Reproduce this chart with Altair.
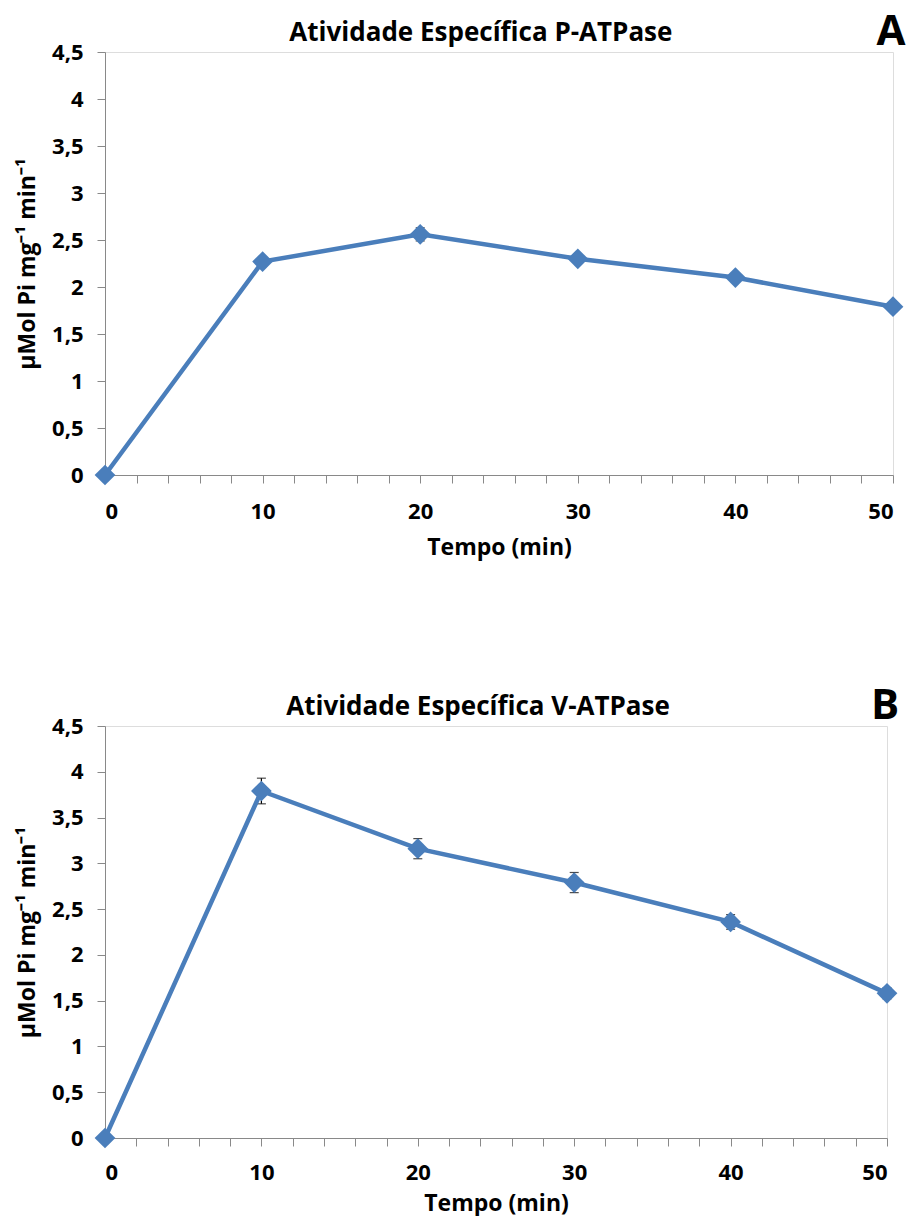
import altair as alt
import pandas as pd

time = [0, 10, 20, 30, 40, 50]
p_atpase = [0.0, 2.27, 2.56, 2.30, 2.10, 1.79]
p_err = [0.0, 0.05, 0.07, 0.03, 0.03, 0.04]
v_atpase = [0.0, 3.79, 3.16, 2.79, 2.36, 1.58]
v_err = [0.0, 0.14, 0.11, 0.11, 0.08, 0.06]

x_ticks = list(range(0, 52, 2))
y_ticks = [0, 0.5, 1, 1.5, 2, 2.5, 3, 3.5, 4, 4.5]

FONT = "Open Sans"
BLUE = "#4A7EBB"
GRAY = "#898989"


def panel(values, errs, title, letter, w, h, lpad, tpad):
    df = pd.DataFrame({"t": time, "v": values, "lo": [a - b for a, b in zip(values, errs)],
                       "hi": [a + b for a, b in zip(values, errs)]})
    base = alt.Chart(df)
    x = alt.X("t:Q", scale=alt.Scale(domain=[0, 50], nice=False),
              axis=alt.Axis(values=x_ticks, tickCount=60, title="Tempo (min)",
                            labelExpr="datum.value % 10 == 0 ? datum.label : ''",
                            labelOverlap=False,
                            grid=False, tickSize=8, labelPadding=lpad, titlePadding=tpad,
                            domainColor=GRAY, tickColor=GRAY, labelFontSize=22,
                            titleFontSize=23, labelFont=FONT, titleFont=FONT,
                            labelFontWeight="bold", titleFontWeight="bold",
                            labelColor="black", titleColor="black"))
    y = alt.Y("v:Q", scale=alt.Scale(domain=[0, 4.5], nice=False),
              axis=alt.Axis(values=y_ticks, tickCount=20, title="µMol Pi mg⁻¹ min⁻¹", format="~g",
                            labelExpr="replace(datum.label, '.', ',')",
                            labelOverlap=False,
                            grid=False, tickSize=8, labelPadding=14, titlePadding=12,
                            domainColor=GRAY, tickColor=GRAY, labelFontSize=22,
                            titleFontSize=23, labelFont=FONT, titleFont=FONT,
                            labelFontWeight="bold", titleFontWeight="bold",
                            labelColor="black", titleColor="black"))
    line = base.mark_line(color=BLUE, strokeWidth=4.5, clip=False).encode(x=x, y=y)
    pts = base.mark_point(shape="diamond", filled=True, color=BLUE, size=430, opacity=1,
                          clip=False).encode(x="t:Q", y="v:Q")
    eb = base.mark_rule(color="black", strokeWidth=1.2).encode(x="t:Q", y="lo:Q", y2="hi:Q")
    cap_lo = base.mark_tick(color="black", thickness=1.2, size=9, orient="horizontal").encode(
        x="t:Q", y="lo:Q")
    cap_hi = base.mark_tick(color="black", thickness=1.2, size=9, orient="horizontal").encode(
        x="t:Q", y="hi:Q")
    lab = pd.DataFrame({"l": [letter], "ttl": [title]})
    let = alt.Chart(lab).mark_text(
        font=FONT, fontSize=42, fontWeight="bold", color="black",
        align="center", baseline="middle").encode(
        text="l:N", x=alt.value(w - 2), y=alt.value(-20))
    ttl = alt.Chart(lab).mark_text(
        font=FONT, fontSize=26, fontWeight="bold", color="black",
        align="center", baseline="middle").encode(
        text="ttl:N", x=alt.value(w * 0.477), y=alt.value(-19))
    return alt.layer(eb, cap_lo, cap_hi, line, pts, let, ttl).properties(width=w, height=h)


a = panel(p_atpase, p_err, "Atividade Específica P-ATPase", "A", 788, 423, 18, 14)
b = panel(v_atpase, v_err, "Atividade Específica V-ATPase", "B", 782, 412, 16, 9)

chart = alt.vconcat(a, b, spacing=124).properties(
    padding={"left": 16, "top": 10, "right": 0, "bottom": 0}
).configure_view(stroke=None).configure(background="white")

chart.save("out.html", embed_options={"renderer": "svg", "actions": False})
